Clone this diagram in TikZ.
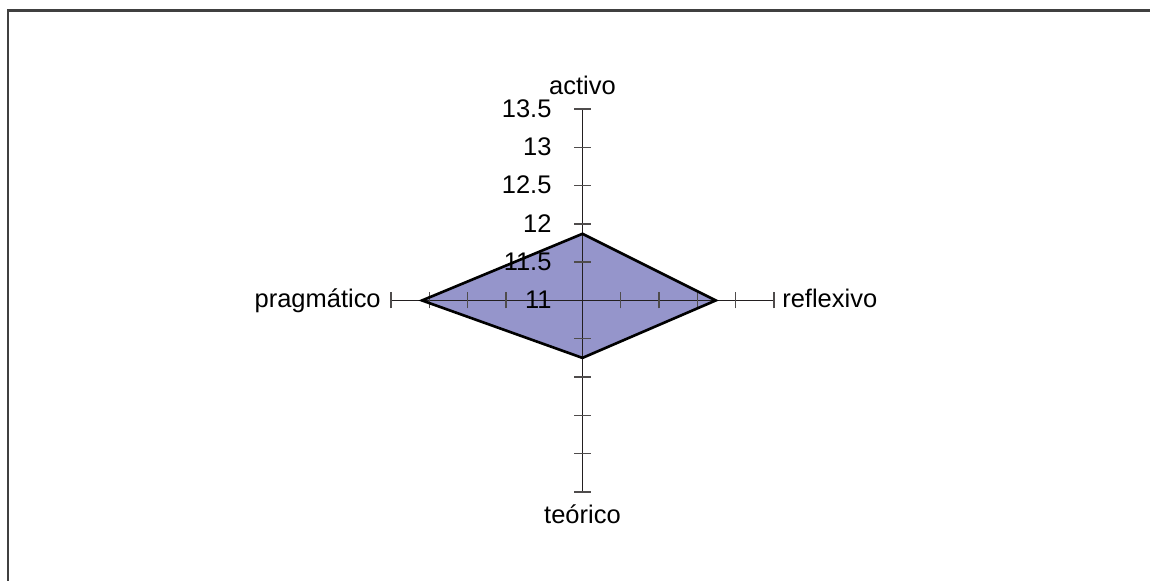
\documentclass[tikz,border=0pt]{standalone}
\usepackage{fontspec}
\setmainfont{Liberation Sans}
\usepackage{tikz}

\definecolor{areafill}{RGB}{149,149,203}
\definecolor{axisgray}{RGB}{35,31,32}
\definecolor{framegray}{RGB}{64,64,64}

\begin{document}
\begin{tikzpicture}[x=0.766cm, y=0.766cm,
    axisline/.style={axisgray, line width=0.75pt},
    tickmark/.style={axisgray!80, line width=0.75pt},
    ticklabel/.style={anchor=base east, inner sep=0pt, font=\fontsize{14.5}{17}\selectfont},
    axislabel/.style={inner sep=0pt, font=\fontsize{14.5}{17}\selectfont},
    area/.style={fill=areafill, draw=black, line width=1.5pt, line join=miter}]

            \useasboundingbox (-15.21,-7.324) rectangle (14.82,7.846);

            % frame
            \coordinate (frameNW) at (-15.01,7.572);
            \coordinate (frameNE) at (14.9,7.572);
            \coordinate (frameSW) at (-15.01,-7.4);
            \draw[framegray, line width=1.3pt] (frameSW) -- (frameNW) -- (frameNE);

            % axis ends
            \coordinate (O) at (0,0);
            \coordinate (upEnd) at (0,5);
            \coordinate (downEnd) at (0,-5);
            \coordinate (leftEnd) at (-5,0);
            \coordinate (rightEnd) at (5,0);

            % data points
            \coordinate (activoPt) at (0,1.74);
            \coordinate (reflexivoPt) at (3.48,0);
            \coordinate (teoricoPt) at (0,-1.5);
            \coordinate (pragmaticoPt) at (-4.19,0);

            \fill[areafill] (activoPt) -- (reflexivoPt) -- (teoricoPt) -- (pragmaticoPt) -- cycle;

            \draw[axisline] (downEnd) -- (upEnd);
            \draw[axisline] (leftEnd) -- (rightEnd);

            \foreach \k in {1,...,5} {
                \draw[tickmark] (-0.21,\k) -- (0.21,\k);
                \draw[tickmark] (-0.21,-\k) -- (0.21,-\k);
                \draw[tickmark] (\k,-0.21) -- (\k,0.21);
                \draw[tickmark] (-\k,-0.21) -- (-\k,0.21);
            }

            \node[ticklabel] (v11) at (-0.8,-0.22) {11};
            \node[ticklabel] (v115) at (-0.8,0.78) {11.5};
            \node[ticklabel] (v12) at (-0.8,1.78) {12};
            \node[ticklabel] (v125) at (-0.8,2.78) {12.5};
            \node[ticklabel] (v13) at (-0.8,3.78) {13};
            \node[ticklabel] (v135) at (-0.8,4.78) {13.5};

            \draw[area, fill=none] (activoPt) -- (reflexivoPt) -- (teoricoPt) -- (pragmaticoPt) -- cycle;

            \node[axislabel, anchor=base] (activo) at (0,5.39) {activo};
            \node[axislabel, anchor=base] (teorico) at (0,-5.835) {teórico};
            \node[axislabel, anchor=base east] (pragmatico) at (-5.26,-0.196) {pragmático};
            \node[axislabel, anchor=base west] (reflexivo) at (5.21,-0.196) {reflexivo};

\end{tikzpicture}
\end{document}
